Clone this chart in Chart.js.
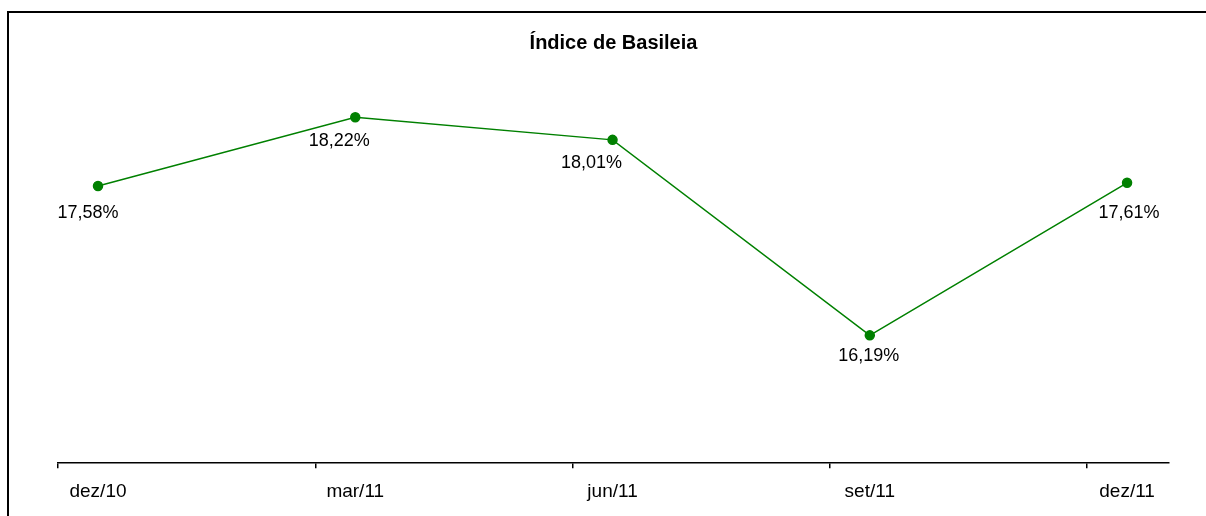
<!DOCTYPE html>
<html>
<head>
<meta charset="utf-8">
<script src="https://cdn.jsdelivr.net/npm/chart.js@4"></script>
<style>
  html, body { margin: 0; padding: 0; background: #fff; overflow: hidden; }
  #frame {
    position: absolute; left: 7px; top: 11px; width: 1400px; height: 700px;
    border-top: 2px solid #000; border-left: 2px solid #000;
  }
  #box { position: absolute; left: 0; top: 0; width: 1206px; height: 516px; }
</style>
</head>
<body>
<div id="frame"></div>
<div id="box"><canvas id="basileia-chart"></canvas></div>
<script>
// dados do gráfico
const categories = ["dez/10", "mar/11", "jun/11", "set/11", "dez/11"];
const indice     = [17.58, 18.22, 18.01, 16.19, 17.61];

// deslocamento dos tick marks em relação às categorias (estilo Excel)
const TICK_SHIFT = 0.1555;

const fmt = v => v.toFixed(2).replace(".", ",") + "%";

// rótulos de dados abaixo dos pontos
const dataLabels = {
  id: "dataLabels",
  afterDatasetsDraw(chart, args, opts) {
    const ctx = chart.ctx;
    const meta = chart.getDatasetMeta(0);
    ctx.save();
    ctx.font = "18px 'Liberation Sans', Arial, sans-serif";
    ctx.fillStyle = "#000";
    ctx.textAlign = "center";
    ctx.textBaseline = "middle";
    meta.data.forEach((pt, i) => {
      const off = opts.offsets[i];
      ctx.fillText(fmt(indice[i]), pt.x + off[0], pt.y + off[1]);
    });
    ctx.restore();
  }
};

const ctx = document.getElementById("basileia-chart").getContext("2d");
new Chart(ctx, {
  type: "line",
  data: {
    datasets: [{
      label: "Índice de Basileia",
      data: indice.map((v, i) => ({ x: i, y: v })),
      borderColor: "#008000",
      backgroundColor: "#008000",
      borderWidth: 1.5,
      pointRadius: 4.5,
      pointBackgroundColor: "#008000",
      pointBorderColor: "#008000",
      tension: 0,
    }],
  },
  options: {
    responsive: true,
    maintainAspectRatio: false,
    animation: false,
    layout: { padding: { left: 58, right: 37, top: 0, bottom: 1 } },
    plugins: {
      legend: { display: false },
      tooltip: { enabled: false },
      title: {
        display: true,
        text: "Índice de Basileia",
        color: "#000",
        font: { family: "'Liberation Sans', Arial, sans-serif", size: 20, weight: "bold" },
        padding: { top: 31, bottom: 0 },
      },
      dataLabels: {
        offsets: [[-10, 27], [-16, 24], [-21, 23], [-1, 21], [2, 30]],
      },
    },
    scales: {
      x: {
        type: "linear",
        min: -TICK_SHIFT,
        max: 4.163,
        afterBuildTicks: scale => {
          scale.ticks = categories.map((c, i) => ({ value: i - TICK_SHIFT }));
        },
        border: { display: true, color: "#000", width: 1.5 },
        grid: { display: true, drawOnChartArea: false, drawTicks: true, tickLength: 5, color: "#000", lineWidth: 1.5 },
        ticks: {
          autoSkip: false,
          maxRotation: 0,
          padding: 12,
          labelOffset: 40,
          color: "#000",
          font: { family: "'Liberation Sans', Arial, sans-serif", size: 19 },
          callback: v => categories[Math.round(v + TICK_SHIFT)],
        },
      },
      y: {
        display: false,
        min: 15,
        max: 18.8,
      },
    },
  },
  plugins: [dataLabels],
});
</script>
</body>
</html>
